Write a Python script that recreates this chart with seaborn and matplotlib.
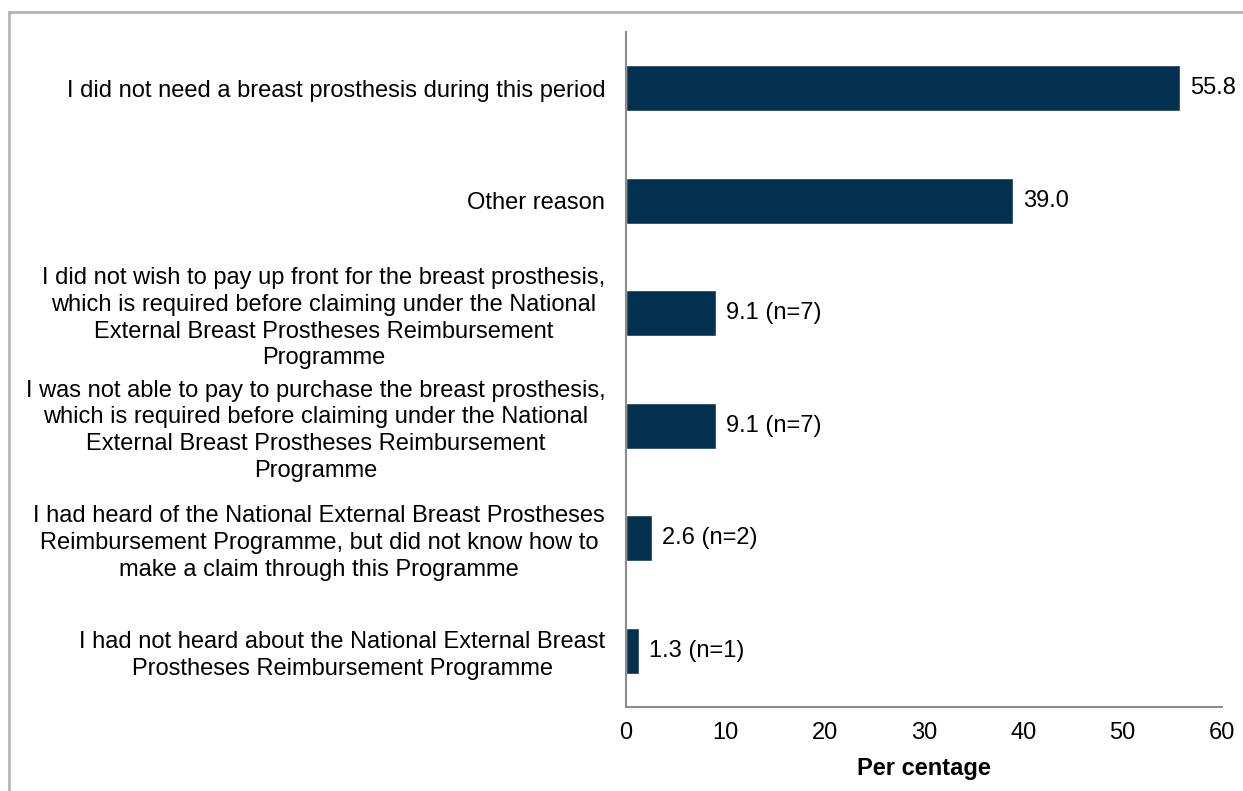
import matplotlib
matplotlib.use("Agg")
import matplotlib.pyplot as plt
import pandas as pd
import seaborn as sns
from matplotlib.lines import Line2D

reasons = [
    "I did not need a breast prosthesis during this period",
    "Other reason",
    "I did not wish to pay up front for the breast prosthesis,\nwhich is required before claiming under the National\nExternal Breast Prostheses Reimbursement\nProgramme",
    "I was not able to pay to purchase the breast prosthesis,\nwhich is required before claiming under the National\nExternal Breast Prostheses Reimbursement\nProgramme",
    "I had heard of the National External Breast Prostheses\nReimbursement Programme, but did not know how to\nmake a claim through this Programme",
    "I had not heard about the National External Breast\nProstheses Reimbursement Programme",
]
percentages = [55.8, 39.0, 9.1, 9.1, 2.6, 1.3]
counts = [None, None, 7, 7, 2, 1]
x_ticks = [0, 10, 20, 30, 40, 50, 60]

sns.set_theme(style="white")
plt.rcParams["font.family"] = ["Liberation Sans", "DejaVu Sans"]
FS = 17

df = pd.DataFrame({"reason": reasons, "pct": percentages})

fig = plt.figure(figsize=(12.43, 7.91), dpi=100)
ax = fig.add_axes([0.5036, 0.1062, 0.9831 - 0.5036, 0.9595 - 0.1062])

sns.barplot(data=df, x="pct", y="reason", orient="h", color="#03314f",
            width=0.41, saturation=1, ax=ax)

for i, (p, n) in enumerate(zip(percentages, counts)):
    label = f"{p:.1f}" if n is None else f"{p:.1f} (n={n})"
    ax.annotate(label, (p, i), xytext=(7, 0), textcoords="offset points",
                ha="left", va="center", fontsize=FS, color="black")

ax.set_xlim(0, 60)
ax.set_ylim(5.5, -0.5)
ax.set_xticks(x_ticks)
ax.set_xticklabels([str(t) for t in x_ticks], fontsize=FS, color="black")
ax.set_xlabel("Per centage", fontsize=FS, fontweight="bold", color="black",
              labelpad=9)
ax.set_ylabel("")
ax.tick_params(axis="x", length=0, pad=11)
ax.tick_params(axis="y", length=0, pad=15)
for lab in ax.get_yticklabels():
    lab.set_fontsize(FS)
    lab.set_color("black")
    lab.set_multialignment("center")
    lab.set_linespacing(1.28)

for side in ["top", "right"]:
    ax.spines[side].set_visible(False)
for side in ["left", "bottom"]:
    ax.spines[side].set_color("#8c8c8c")
    ax.spines[side].set_linewidth(1.5)

# outer frame (cropped chart border)
fig.add_artist(Line2D([9 / 1243, 1], [1 - 12 / 791, 1 - 12 / 791],
                      transform=fig.transFigure, color="#b4b4b4", lw=2))
fig.add_artist(Line2D([9 / 1243, 9 / 1243], [0, 1 - 12 / 791],
                      transform=fig.transFigure, color="#b4b4b4", lw=2))

fig.savefig("out.png", dpi=100)
